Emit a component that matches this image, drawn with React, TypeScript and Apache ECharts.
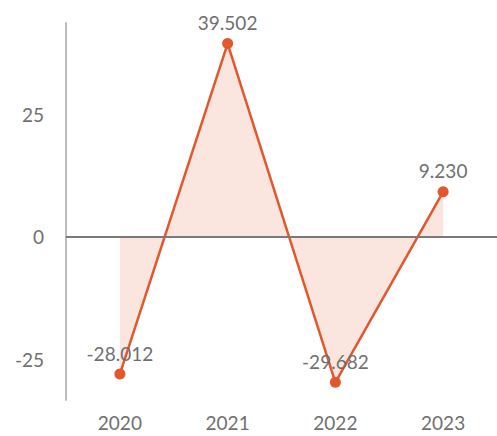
import React, { useEffect, useRef } from "react";
import * as echarts from "echarts";

const categories = ["2020", "2021", "2022", "2023"];
const values = [-28.012, 39.502, -29.682, 9.23];
const yTicks = [-25, 0, 25];

export default function App() {
  const ref = useRef<HTMLDivElement>(null);
  useEffect(() => {
    if (!ref.current) return;
    const chart = echarts.init(ref.current, null, { renderer: "svg" });
    chart.setOption({
      animation: false,
      grid: { left: 66, right: 0, top: 23, bottom: 36 },
      xAxis: {
        type: "category",
        data: categories,
        boundaryGap: true,
        axisLine: { show: false, onZero: false },
        axisTick: { show: false },
        axisLabel: {
          color: "#6f6f6f",
          fontSize: 19,
          lineHeight: 19,
          fontFamily: "Lato",
          margin: 13,
        },
        splitLine: { show: false },
      },
      yAxis: {
        type: "value",
        min: -33.3,
        max: 43.7,
        axisLine: { show: true, lineStyle: { color: "#bdbdbd", width: 2 } },
        axisTick: { show: false },
        splitLine: { show: false },
        axisLabel: {
          customValues: yTicks,
          color: "#6f6f6f",
          fontSize: 19,
          fontFamily: "Lato",
          margin: 22,
        },
      },
      series: [
        {
          type: "line",
          data: values,
          symbol: "circle",
          symbolSize: 11,
          itemStyle: { color: "#E2572B" },
          lineStyle: { color: "#E2572B", width: 2.5 },
          areaStyle: { color: "rgba(236, 150, 125, 0.35)", origin: 0 },
          label: {
            show: true,
            position: "top",
            distance: 6,
            color: "#6f6f6f",
            fontSize: 19,
            fontFamily: "Lato",
            formatter: (p: any) => Number(p.value).toFixed(3),
          },
          markLine: {
            silent: true,
            symbol: "none",
            label: { show: false },
            lineStyle: { color: "#7a7a7a", width: 2, type: "solid" },
            data: [{ yAxis: 0 }],
          },
          z: 3,
        },
      ],
    });
    return () => chart.dispose();
  }, []);
  return <div ref={ref} style={{ width: 497, height: 436, position: "absolute", left: 0, top: 0 }} />;
}
